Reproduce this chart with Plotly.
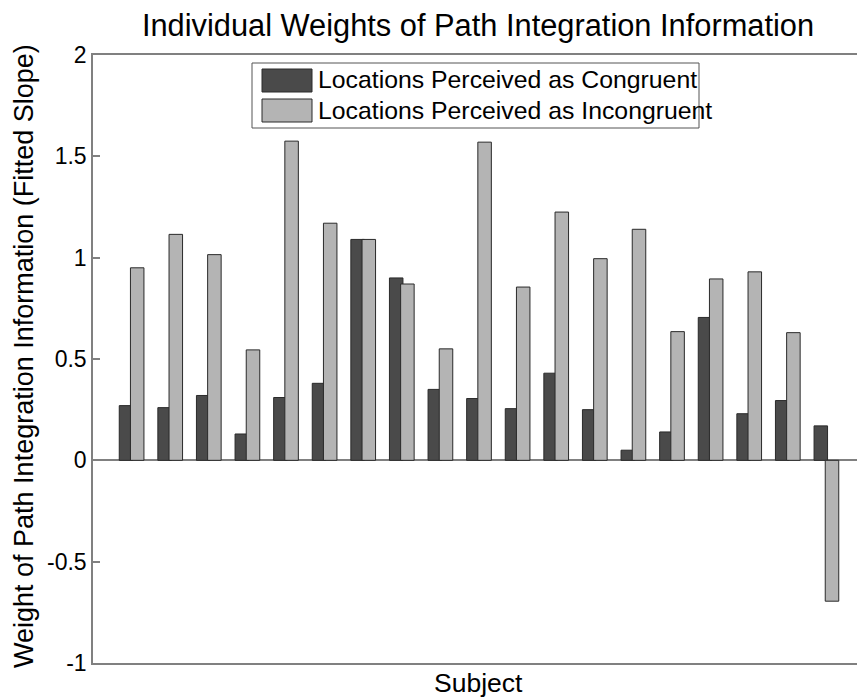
import plotly.graph_objects as go

subjects = list(range(1, 20))
congruent = [0.27, 0.26, 0.32, 0.13, 0.31, 0.38, 1.09, 0.90, 0.35, 0.305,
             0.255, 0.43, 0.25, 0.05, 0.14, 0.705, 0.23, 0.295, 0.17]
incongruent = [0.95, 1.115, 1.015, 0.545, 1.575, 1.17, 1.09, 0.87, 0.55, 1.57,
               0.855, 1.225, 0.995, 1.14, 0.635, 0.895, 0.93, 0.63, -0.695]
series_names = ["Locations Perceived as Congruent", "Locations Perceived as Incongruent"]
ytick_vals = [-1, -0.5, 0, 0.5, 1, 1.5, 2]
ytick_text = ["-1", "-0.5", "0", "0.5", "1", "1.5", "2"]

DARK = "#4a4a4a"
LIGHT = "#b4b4b4"
EDGE = "#2a2a2a"
AXIS = "#808080"
FONT = "Liberation Sans, Arial, sans-serif"

W, H = 857, 697
L, R, T, B = 93, 0, 55, 34
pw, ph = W - L - R, H - T - B

def px_x(p):
    return (p - L) / pw

def px_y(p):
    return (H - B - p) / ph

fig = go.Figure()
fig.add_trace(go.Bar(x=subjects, y=congruent, name=series_names[0],
                     width=0.35, offset=-0.32,
                     marker=dict(color=DARK, line=dict(color=EDGE, width=1)),
                     showlegend=False))
fig.add_trace(go.Bar(x=subjects, y=incongruent, name=series_names[1],
                     width=0.35, offset=-0.03,
                     marker=dict(color=LIGHT, line=dict(color=EDGE, width=1)),
                     showlegend=False))

fig.update_layout(
    width=W, height=H,
    margin=dict(l=L, r=R, t=T, b=B, autoexpand=False),
    plot_bgcolor="white", paper_bgcolor="white",
    barmode="overlay",
    font=dict(family=FONT, color="black"),
    title=dict(text="Individual Weights of Path Integration Information",
               font=dict(size=30.8, family=FONT, color="black"),
               x=478 / W, xanchor="center", xref="container",
               y=1 - 25 / H, yanchor="middle", yref="container"),
)

fig.update_xaxes(range=[0, pw / 38.6], showticklabels=False, ticks="",
                 showgrid=False, zeroline=False,
                 showline=True, linecolor=AXIS, linewidth=1.5, mirror=True)
fig.update_yaxes(range=[-1, 2], tickvals=ytick_vals, ticktext=ytick_text,
                 ticks="inside", ticklen=7, tickcolor=AXIS, tickwidth=1.5,
                 tickfont=dict(size=23, family=FONT, color="black"),
                 showgrid=False, zeroline=True, zerolinecolor=AXIS, zerolinewidth=1.5,
                 showline=True, linecolor=AXIS, linewidth=1.5, mirror=False)

# axis titles
fig.add_annotation(text="Subject", xref="paper", yref="paper",
                   x=px_x(479), y=px_y(683), xanchor="center", yanchor="middle",
                   showarrow=False, font=dict(size=26.5, family=FONT, color="black"))
fig.add_annotation(text="Weight of Path Integration Information (Fitted Slope)",
                   xref="paper", yref="paper", textangle=-90,
                   x=px_x(24), y=px_y(356), xanchor="center", yanchor="middle",
                   showarrow=False, font=dict(size=27, family=FONT, color="black"))

# legend (box, swatches, labels)
fig.add_shape(type="rect", xref="paper", yref="paper",
              x0=px_x(252), x1=px_x(699), y0=px_y(128), y1=px_y(63),
              line=dict(color="#555555", width=1), fillcolor="white", layer="above")
swatches = [(DARK, 69, 92, 80), (LIGHT, 99, 122, 110)]
for (col, ytop, ybot, ymid), name in zip(swatches, series_names):
    fig.add_shape(type="rect", xref="paper", yref="paper",
                  x0=px_x(262), x1=px_x(312), y0=px_y(ybot), y1=px_y(ytop),
                  line=dict(color=EDGE, width=1), fillcolor=col, layer="above")
    fig.add_annotation(text=name, xref="paper", yref="paper",
                       x=px_x(316), y=px_y(ymid), xanchor="left", yanchor="middle",
                       showarrow=False, font=dict(size=24.8, family=FONT, color="black"))

fig.write_html("out.html", config={"displayModeBar": False},
               post_script="document.body.style.margin='0px';document.body.style.overflow='hidden';")
